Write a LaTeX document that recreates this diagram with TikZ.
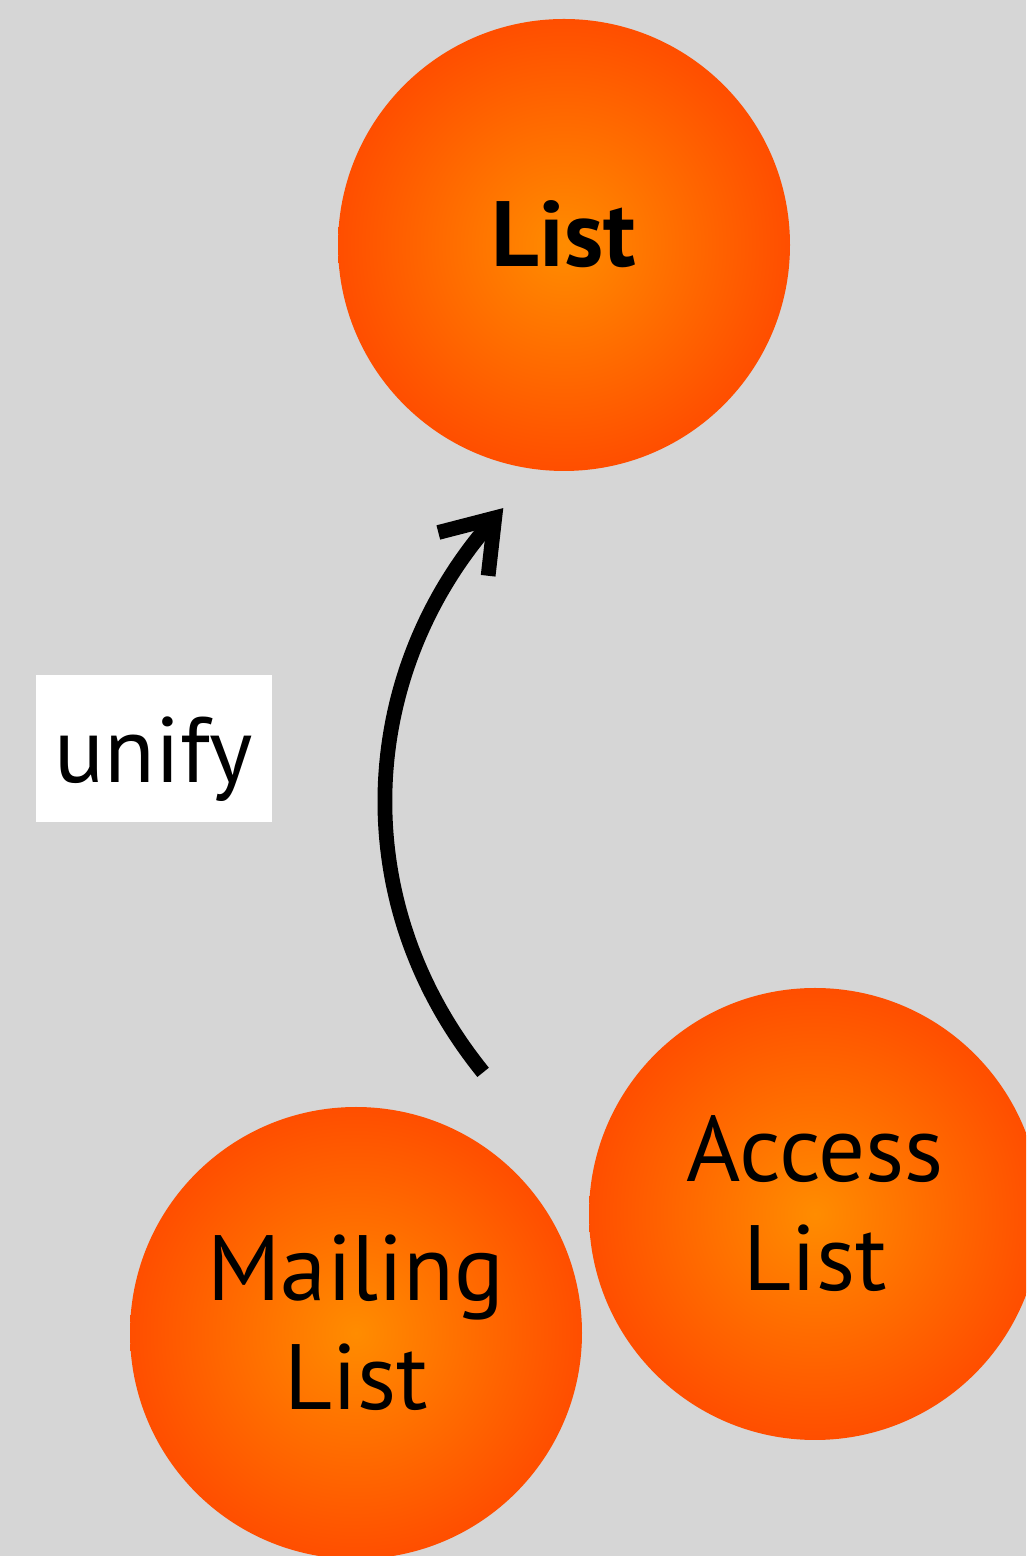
\documentclass[tikz,border=0pt]{standalone}
\usepackage{fontspec}
\setmainfont{PT Sans}
\usetikzlibrary{arrows.meta}
\definecolor{bggray}{HTML}{D6D6D6}
\definecolor{ballin}{HTML}{FF8C00}
\definecolor{ballout}{HTML}{FF4E00}
\tikzset{
	ball/.style={circle,minimum size=11.3cm,inner sep=0pt,inner color=ballin,outer color=ballout,align=center,text depth=0.55cm,font=\fontsize{66}{78}\selectfont},
	tag/.style={fill=white,minimum width=5.9cm,minimum height=3.675cm,inner sep=0pt,text height=2.2cm,text depth=0.5cm,font=\fontsize{66}{78}\selectfont}
}
\begin{document}
\begin{tikzpicture}
		\useasboundingbox (0,0) rectangle (25.65,38.9);
		\clip (0,0) rectangle (25.65,38.9);
		\fill[bggray] (0,0) rectangle (25.65,38.9);
		\node[ball,outer sep=1.1cm] (list) at (14.1,32.775) {\bfseries List};
		\node[ball,outer sep=1.6cm] (mail) at (8.9,5.575) {Mailing\\List};
		\node[ball] (access) at (20.375,8.55) {Access\\List};
		\node[tag] (unify) at (3.85,20.19) {unify};
		\draw[line width=10.5pt,-{Straight Barb[length=1.2cm,width=1.65cm]}] (mail.64) to[out=129,in=-131] (list.257);
	\end{tikzpicture}
\end{document}
